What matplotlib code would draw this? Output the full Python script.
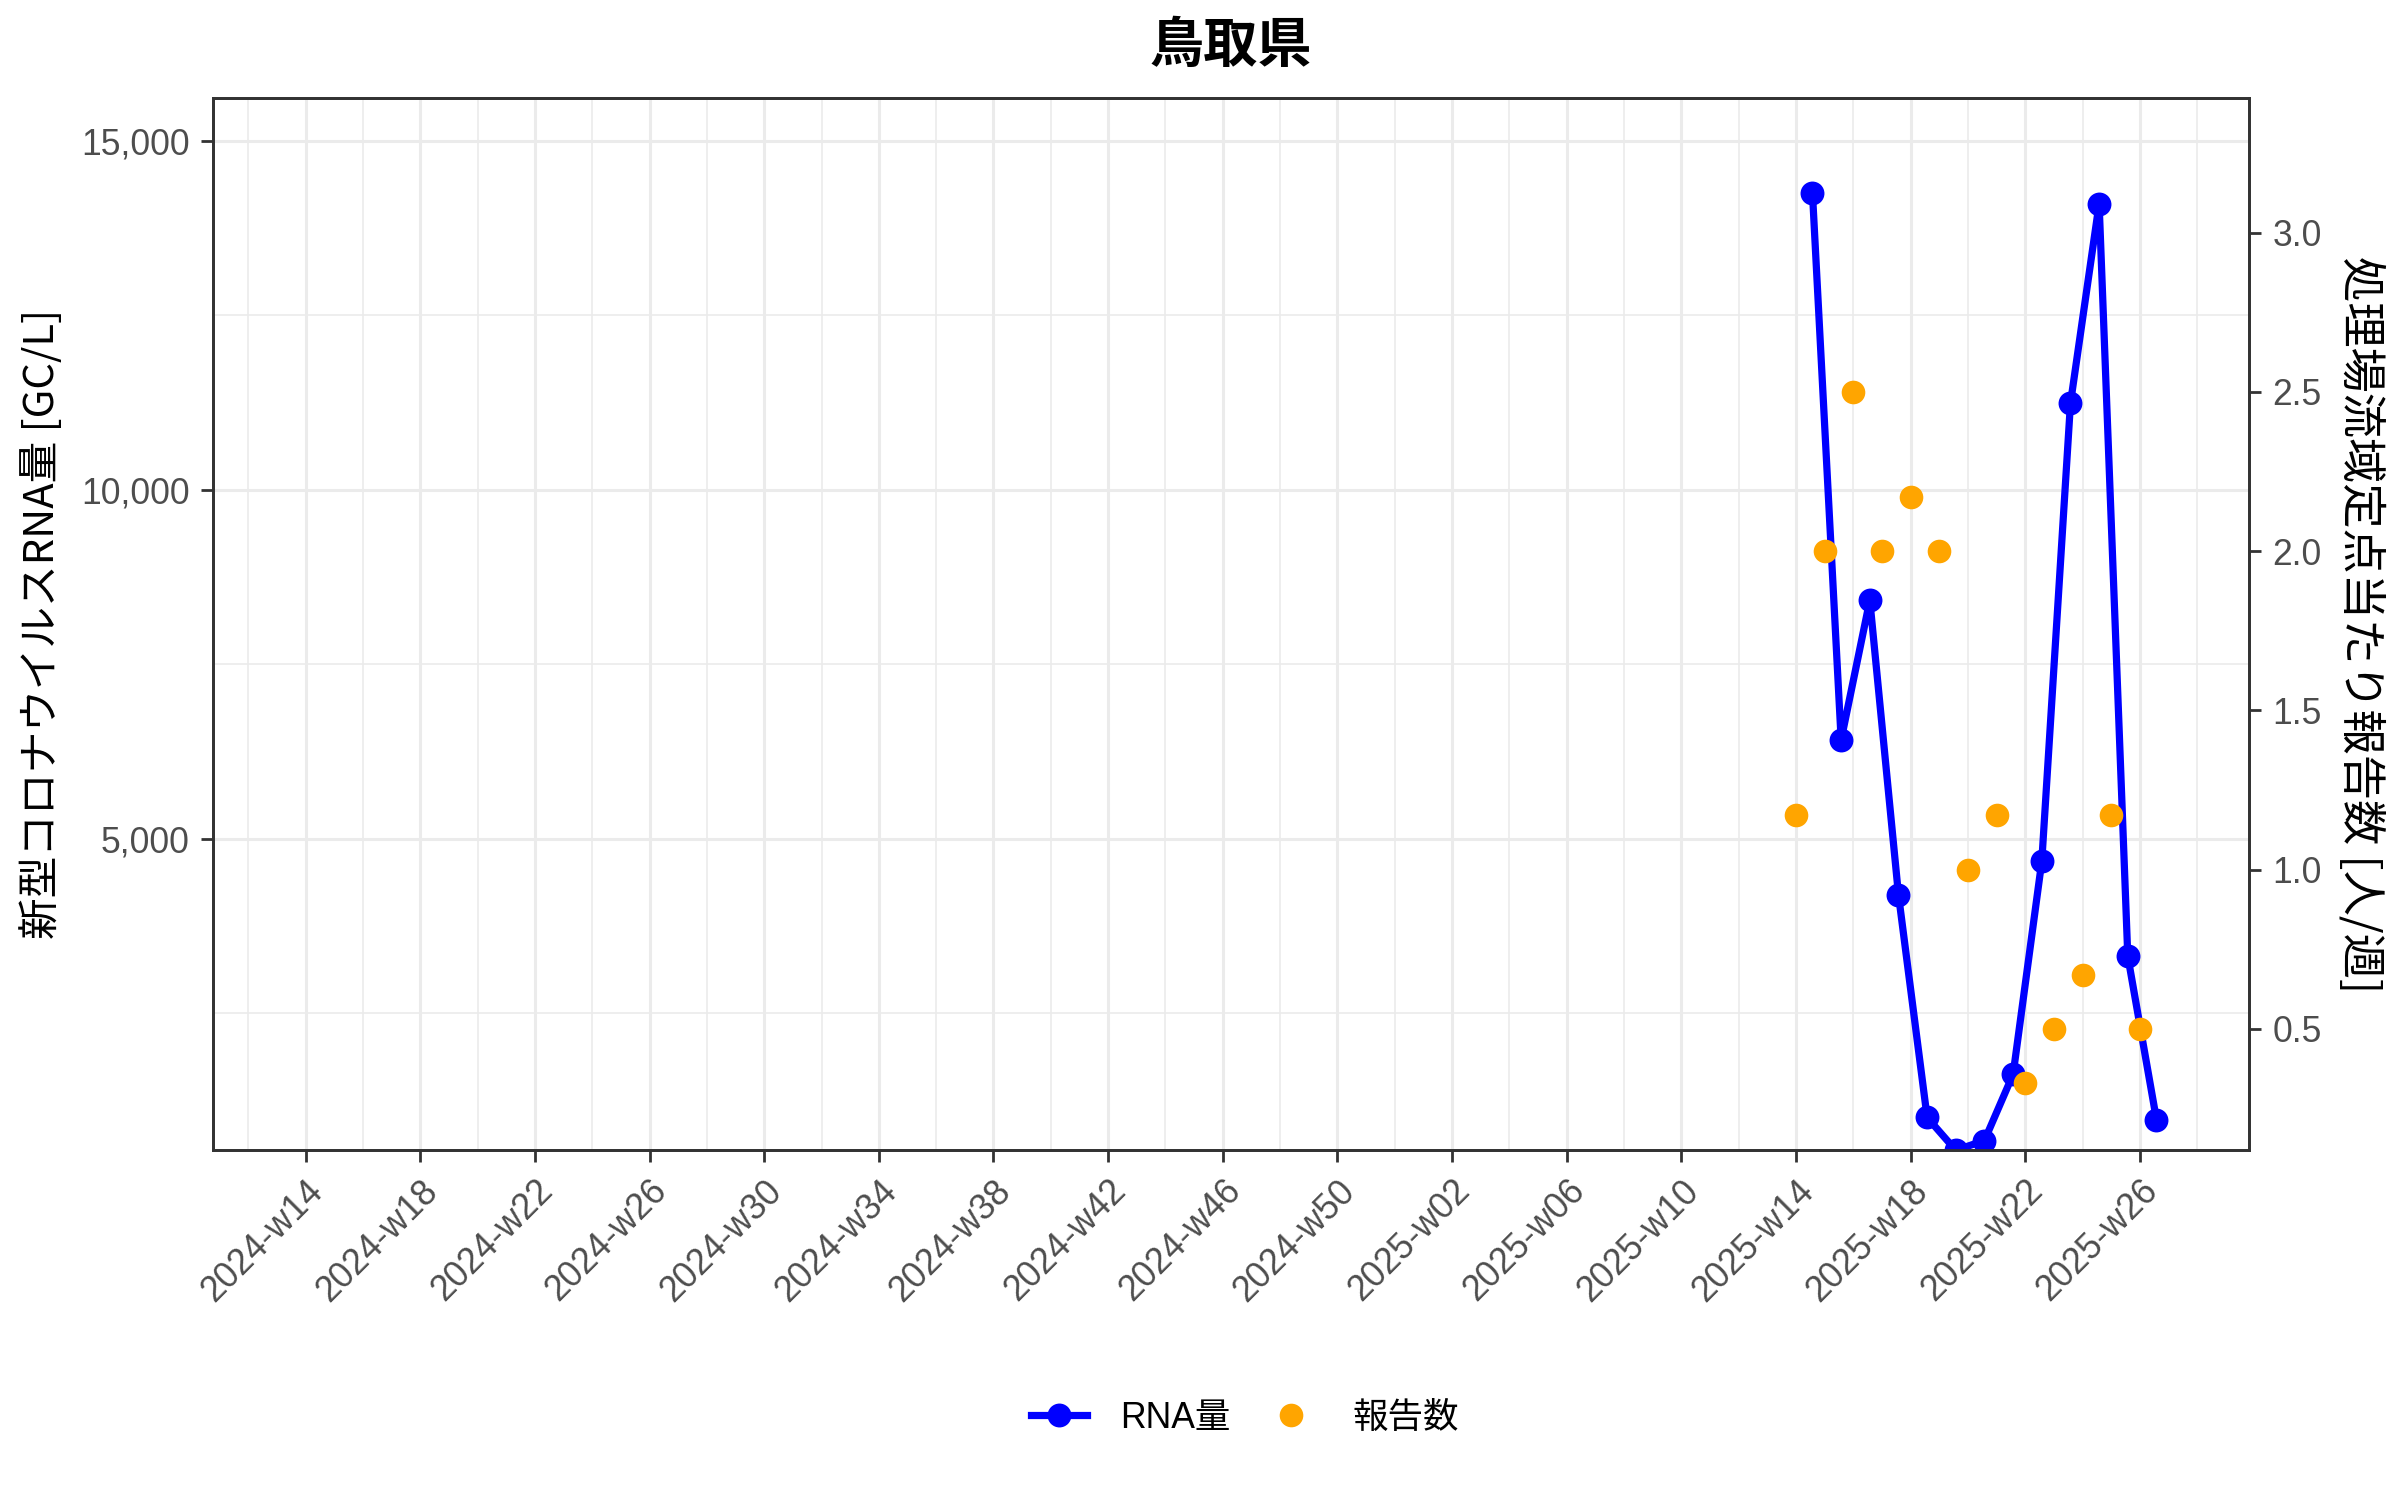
"""
Wastewater RNA vs. reported cases, Tottori prefecture
"""

import datetime as dt

import numpy as np
import matplotlib
matplotlib.use("Agg")
import matplotlib.pyplot as plt
import matplotlib.dates as mdates
from matplotlib.ticker import FixedLocator, FuncFormatter
from matplotlib.lines import Line2D

CJK = ["Noto Sans CJK JP", "DejaVu Sans"]
LATIN = ["Liberation Sans", "Noto Sans CJK JP", "DejaVu Sans"]

# --- data -------------------------------------------------------------------
title = "鳥取県"
tick_labels = ["2024-w14", "2024-w18", "2024-w22", "2024-w26", "2024-w30",
               "2024-w34", "2024-w38", "2024-w42", "2024-w46", "2024-w50",
               "2025-w02", "2025-w06", "2025-w10", "2025-w14", "2025-w18",
               "2025-w22", "2025-w26"]

rna_dates = ["2025-04-04", "2025-04-11", "2025-04-18", "2025-04-25",
             "2025-05-02", "2025-05-09", "2025-05-16", "2025-05-23",
             "2025-05-30", "2025-06-06", "2025-06-13", "2025-06-20",
             "2025-06-27"]
rna_values = [14250, 6420, 8420, 4200, 1010, 540, 680, 1630, 4680, 11240,
              14100, 3320, 980]

report_dates = ["2025-03-31", "2025-04-07", "2025-04-14", "2025-04-21",
                "2025-04-28", "2025-05-05", "2025-05-12", "2025-05-19",
                "2025-05-26", "2025-06-02", "2025-06-09", "2025-06-16",
                "2025-06-23"]
report_values = [1.17, 2.0, 2.5, 2.0, 2.17, 2.0, 1.0, 1.17, 0.33, 0.5, 0.67,
                 1.17, 0.5]

rna_limits = [544, 15610]
sec_scale = 4562  # RNA units per report unit on the right axis


def week_monday(label):
    year, week = label.split("-w")
    return dt.date.fromisocalendar(int(year), int(week), 1)


tick_x = mdates.date2num([week_monday(s) for s in tick_labels])
rna_x = mdates.date2num([dt.date.fromisoformat(s) for s in rna_dates])
rep_x = mdates.date2num([dt.date.fromisoformat(s) for s in report_dates])

x0, x1 = tick_x[0], rna_x[-1]
pad = 0.05 * (x1 - x0)
minor_x = np.concatenate([[tick_x[0] - 14], tick_x + 14])

# --- figure -----------------------------------------------------------------
fig = plt.figure(figsize=(12, 7.5), dpi=200)
ax = fig.add_axes([213 / 2400, 1 - 1150 / 1500,
                   (2249 - 213) / 2400, (1150 - 98.3) / 1500])
ax2 = ax.twinx()

grid_c = "#EBEBEB"
ax.set_axisbelow(True)
ax.xaxis.set_major_locator(FixedLocator(tick_x))
ax.xaxis.set_minor_locator(FixedLocator(minor_x))
ax.set_xticklabels(tick_labels)
ax.set_yticks([5000, 10000, 15000])
ax.yaxis.set_minor_locator(FixedLocator([2500, 7500, 12500]))
ax.yaxis.set_major_formatter(FuncFormatter(lambda v, p: f"{int(v):,}"))
ax.grid(which="major", color=grid_c, linewidth=1.1)
ax.grid(which="minor", color=grid_c, linewidth=0.6)

ax.plot(rna_x, rna_values, color="#0000FF", linewidth=2.6, marker="o",
        markersize=7.6, zorder=3)
ax2.plot(rep_x, report_values, linestyle="none", color="#FFA500",
         marker="o", markersize=7.5, zorder=4)

ax.set_xlim(x0 - pad, x1 + pad)
ax.set_ylim(*rna_limits)
ax2.set_ylim(rna_limits[0] / sec_scale, rna_limits[1] / sec_scale)
ax2.set_yticks([0.5, 1.0, 1.5, 2.0, 2.5, 3.0])
ax2.yaxis.set_major_formatter(FuncFormatter(lambda v, p: f"{v:.1f}"))

for a in (ax, ax2):
    for sp in a.spines.values():
        sp.set_color("#333333")
        sp.set_linewidth(1.0)
    a.tick_params(which="major", length=4.4, width=1.0, color="#333333",
                  labelsize=12.8, labelcolor="#4D4D4D", pad=4)
    a.tick_params(which="minor", length=0)
    for lab in a.get_xticklabels() + a.get_yticklabels():
        lab.set_family(LATIN)

for lab in ax.get_xticklabels():
    lab.set_rotation(45)
    lab.set_ha("right")
    lab.set_va("top")
    lab.set_rotation_mode("anchor")

ax.set_ylabel("新型コロナウイルスRNA量 [GC/L]", family=CJK, fontsize=15,
              color="black", ha="center", va="center")
ax.yaxis.set_label_coords((42 - 213) / 2036, 0.5)
ax2.set_ylabel("処理場流域定点当たり報告数 [人/週]", family=CJK, fontsize=16.3,
               color="black", rotation=270, ha="center", va="center")
ax2.yaxis.set_label_coords((2361 - 213) / 2036, 0.5)

ax.set_title(title, family=CJK, fontsize=19.5, fontweight="bold", pad=13)

handles = [
    Line2D([], [], color="#0000FF", linewidth=2.6, marker="o", markersize=7.6),
    Line2D([], [], color="#FFA500", linestyle="none", marker="o",
           markersize=7.5),
]
fig.legend(handles, ["RNA量", "報告数"], loc="center",
           bbox_to_anchor=(1245 / 2400, 1 - 1418 / 1500), ncol=2,
           frameon=False, prop={"family": LATIN, "size": 12.8},
           handlelength=1.6, handletextpad=0.93, columnspacing=0.9)

fig.savefig("out.png", dpi=200, facecolor="white")
